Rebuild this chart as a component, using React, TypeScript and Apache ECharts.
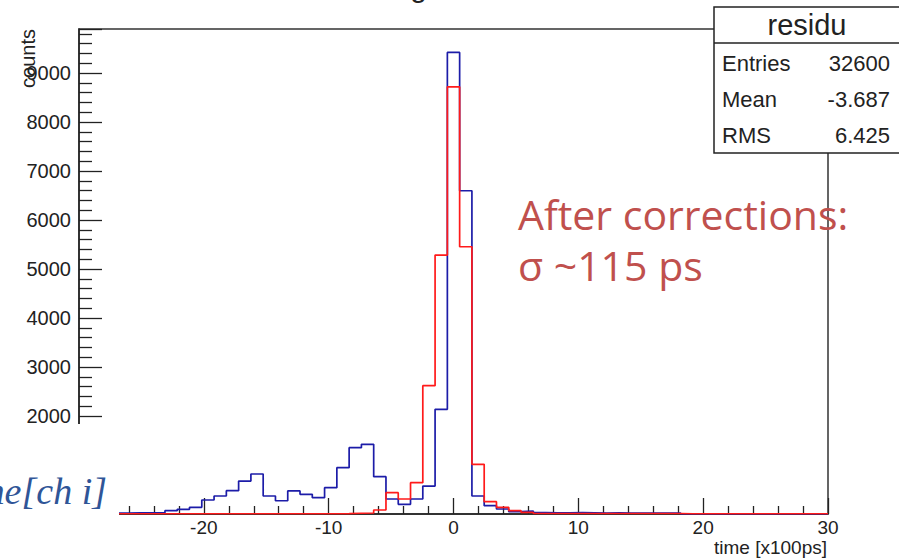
import React, { useEffect, useRef } from "react";
import * as echarts from "echarts";

// Histogram binning
const BIN_MIN = -30;
const BIN_MAX = 30;
const N_BINS = 61;

// Blue histogram (before corrections), counts per bin
const blueCounts = [
  20, 20, 20, 20, 25, 25, 25, 68, 95, 136,
  286, 367, 476, 673, 816, 367, 270, 470, 402, 333,
  537, 945, 1353, 1422, 761, 306, 198, 306, 571, 2137,
  9422, 6598, 367, 169, 102, 47, 61, 30, 25, 25,
  30, 25, 20, 25, 20, 20, 20, 20, 20, 0,
  0, 0, 0, 0, 0, 0, 0, 0, 0, 0,
  0,
];

// Red histogram (after corrections), counts per bin
const redCounts = [
  5, 5, 5, 5, 5, 5, 5, 5, 5, 5,
  5, 5, 5, 5, 5, 5, 5, 5, 5, 5,
  5, 8, 15, 20, 82, 435, 306, 639, 2619, 5286,
  8720, 5455, 1014, 251, 136, 68, 34, 10, 10, 10,
  10, 10, 10, 10, 10, 10, 10, 10, 10, 5,
  5, 5, 5, 5, 5, 5, 5, 5, 5, 5,
  5,
];

const xTicks = { min: -30, max: 30, interval: 10 };
const yTicks = { min: 0, max: 9900, interval: 1000 };

const statsTitle = "residu";
const statsRows: [string, string][] = [
  ["Entries", "32600"],
  ["Mean", "-3.687"],
  ["RMS", "6.425"],
];

const annotationLines = ["After corrections:", "σ ~115 ps"];

function stepPoints(values: number[]): [number, number][] {
  const w = (BIN_MAX - BIN_MIN) / N_BINS;
  const edge = (k: number) => BIN_MIN + k * w;
  const pts: [number, number][] = [[edge(0), 0]];
  values.forEach((v, k) => {
    pts.push([edge(k), v]);
    pts.push([edge(k + 1), v]);
  });
  pts.push([edge(values.length), 0]);
  return pts;
}

const FONT = "'Liberation Sans', Arial, sans-serif";

export default function App() {
  const ref = useRef<HTMLDivElement>(null);
  useEffect(() => {
    if (!ref.current) return;
    const chart = echarts.init(ref.current, null, { renderer: "svg" });
    const axisColor = "#222";
    const option: any = {
      animation: false,
      backgroundColor: "#fff",
      grid: {
        left: 79,
        right: 71,
        top: 29,
        bottom: 44,
        show: true,
        borderColor: "#333",
        borderWidth: 1.5,
        backgroundColor: "transparent",
      },
      xAxis: {
        type: "value",
        min: xTicks.min,
        max: xTicks.max,
        interval: xTicks.interval,
        axisLine: { show: true, onZero: false, lineStyle: { color: axisColor, width: 1.5 } },
        axisTick: { show: true, inside: true, length: 16, lineStyle: { color: axisColor, width: 1.3 } },
        minorTick: { show: true, splitNumber: 5, length: 8, lineStyle: { color: axisColor, width: 1.3 } },
        splitLine: { show: false },
        minorSplitLine: { show: false },
        axisLabel: {
          fontSize: 19,
          color: axisColor,
          margin: 4,
          fontFamily: FONT,
          formatter: (v: number) => String(v),
        },
      },
      yAxis: {
        type: "value",
        min: yTicks.min,
        max: yTicks.max,
        interval: yTicks.interval,
        axisLine: { show: true, onZero: false, lineStyle: { color: axisColor, width: 1.5 } },
        axisTick: { show: true, inside: true, length: 23, lineStyle: { color: axisColor, width: 1.3 } },
        minorTick: { show: true, splitNumber: 5, length: 13, lineStyle: { color: axisColor, width: 1.3 } },
        splitLine: { show: false },
        minorSplitLine: { show: false },
        axisLabel: {
          fontSize: 20,
          color: axisColor,
          margin: 8,
          fontFamily: FONT,
          showMaxLabel: false,
          formatter: (v: number) => String(v),
        },
      },
      series: [
        {
          type: "line",
          data: stepPoints(blueCounts),
          showSymbol: false,
          lineStyle: { color: "#1c1ca8", width: 1.7 },
          z: 3,
        },
        {
          type: "line",
          data: stepPoints(redCounts),
          showSymbol: false,
          lineStyle: { color: "#ff1a1a", width: 1.7 },
          z: 4,
        },
      ],
      graphic: [
        // partially visible title at the very top
        {
          type: "text",
          x: 347,
          y: -14,
          z: 50,
          style: { text: "timing residuals", fontSize: 30, fontFamily: FONT, fill: "#222", align: "left", verticalAlign: "middle" },
        },
        // y axis title
        {
          type: "text",
          x: 28,
          y: 29,
          rotation: Math.PI / 2,
          z: 50,
          style: { text: "counts", fontSize: 20, fontFamily: FONT, fill: "#222", align: "right", verticalAlign: "middle" },
        },
        // x axis title
        {
          type: "text",
          x: 827,
          y: 547,
          z: 50,
          style: { text: "time [x100ps]", fontSize: 19, fontFamily: FONT, fill: "#222", align: "right", verticalAlign: "middle" },
        },
        // white overlay hiding bottom-left corner (slide element)
        {
          type: "rect",
          z: 100,
          shape: { x: 0, y: 424, width: 119, height: 134 },
          style: { fill: "#fff" },
        },
        {
          type: "text",
          x: 107,
          y: 491,
          z: 101,
          style: {
            text: "time[ch i]",
            fontSize: 38,
            fontStyle: "italic",
            fontFamily: "'Liberation Serif', 'DejaVu Serif', serif",
            fill: "#2F5597",
            align: "right",
            verticalAlign: "middle",
          },
        },
        // stats box
        {
          type: "rect",
          z: 100,
          shape: { x: 714, y: 7, width: 200, height: 146 },
          style: { fill: "#fff", stroke: "#222", lineWidth: 1.5 },
        },
        {
          type: "line",
          z: 101,
          shape: { x1: 714, y1: 43, x2: 899, y2: 43 },
          style: { stroke: "#222", lineWidth: 1.5 },
        },
        {
          type: "text",
          x: 807,
          y: 25,
          z: 101,
          style: { text: statsTitle, fontSize: 29, fontFamily: FONT, fill: "#222", align: "center", verticalAlign: "middle" },
        },
        ...statsRows.flatMap(([label, value], i) => [
          {
            type: "text",
            x: 722,
            y: 63 + i * 36,
            z: 101,
            style: { text: label, fontSize: 22, fontFamily: FONT, fill: "#222", align: "left", verticalAlign: "middle" },
          },
          {
            type: "text",
            x: 890,
            y: 63 + i * 36,
            z: 101,
            style: { text: value, fontSize: 22, fontFamily: FONT, fill: "#222", align: "right", verticalAlign: "middle" },
          },
        ]),
        // annotation
        ...annotationLines.map((line, i) => ({
          type: "text",
          x: 518,
          y: 214 + i * 51,
          z: 102,
          style: {
            text: line,
            fontSize: 41,
            fontFamily: "'Open Sans', 'Noto Sans', sans-serif",
            fill: "#C0504D",
            align: "left",
            verticalAlign: "middle",
          },
        })),
      ],
    };
    chart.setOption(option);
    return () => chart.dispose();
  }, []);
  return (
    <div
      ref={ref}
      style={{ position: "fixed", left: 0, top: 0, width: 899, height: 558, background: "#fff" }}
    />
  );
}
